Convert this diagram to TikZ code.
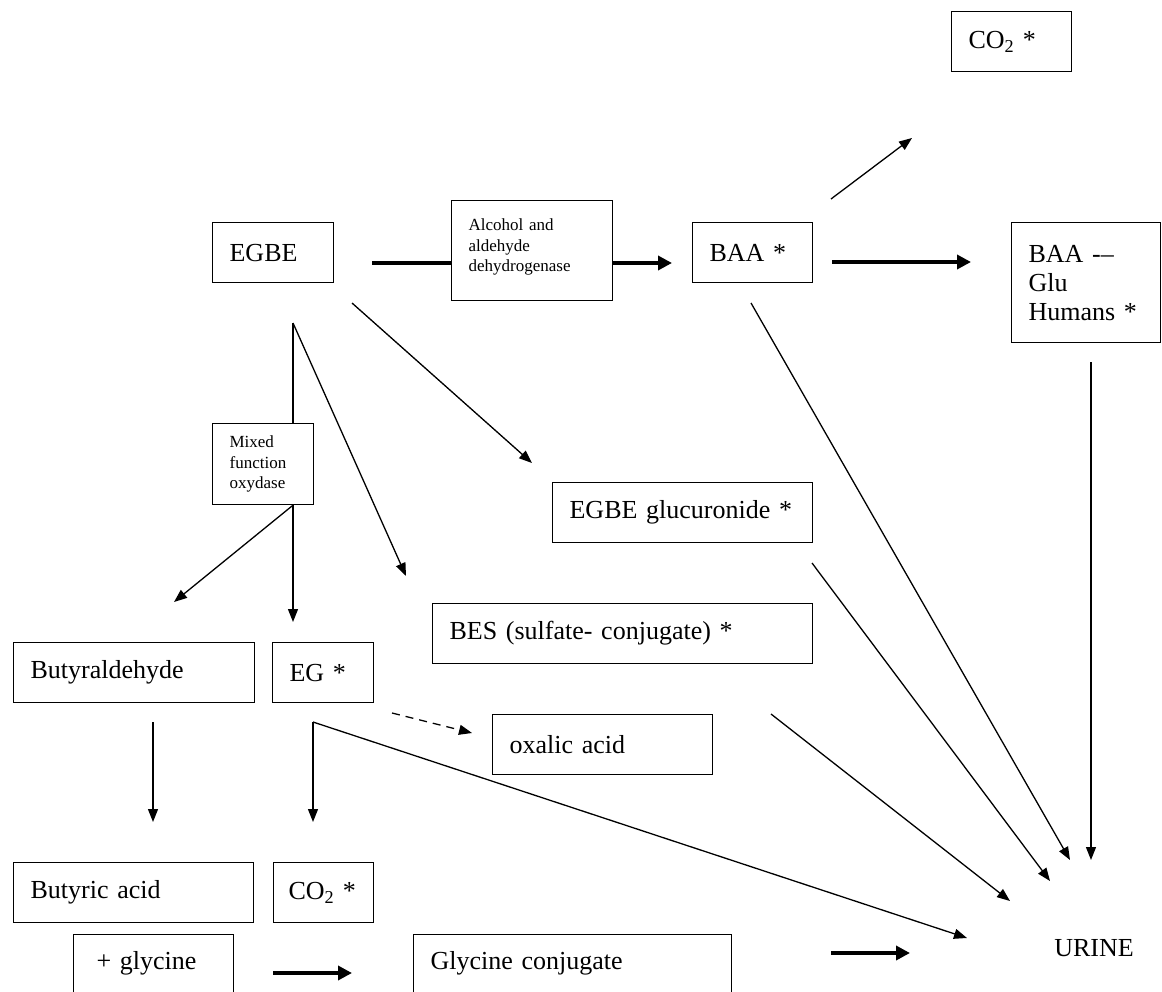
\documentclass[tikz,border=0pt]{standalone}
\usepackage{fontspec}
\setmainfont{Liberation Serif}
\usetikzlibrary{arrows.meta}
\newcommand\bigtext{\fontsize{26}{29}\selectfont}
\newcommand\smalltext{\fontsize{17}{20.5}\selectfont}
\begin{document}
\begin{tikzpicture}[x=1pt,y=-1pt,
  box/.style={draw, line width=1.2pt, anchor=north west, inner xsep=17pt, inner ysep=0pt, align=left, font=\bigtext},
  smallbox/.style={box, font=\smalltext},
  conn/.style={line width=1.3pt, -{Triangle[length=13pt,width=10pt]}},
  plainline/.style={line width=1.3pt},
  thickconn/.style={line width=3.6pt, -{Triangle[length=14pt,width=14pt]}},
  thickline/.style={line width=3.6pt},
  dashconn/.style={line width=1.3pt, dash pattern=on 8pt off 6pt, -{Triangle[length=13pt,width=10pt]}}]
\useasboundingbox (0,0) rectangle (1162,992);
\clip (0,0) rectangle (1162,992);

% boxes
\node[box, text width=86pt, minimum height=60pt] (co2top) at (951,11) {CO\textsubscript{2} *};
\node[box, text width=87pt, minimum height=60pt] (egbe) at (212,222) {EGBE};
\node[smallbox, text width=127pt, text height=30pt, text depth=70pt] (alc) at (451,200) {Alcohol and\\aldehyde\\dehydrogenase};
\node[box, text width=86pt, minimum height=60pt] (baa) at (692,222) {BAA *};
\node[box, text width=115pt, minimum height=120pt] (baaglu) at (1011,222) {BAA -–\\Glu\\Humans *};
\node[smallbox, text width=67pt, minimum height=81pt] (mixed) at (212,423) {Mixed\\function\\oxydase};
\node[box, text width=226pt, minimum height=60pt] (gluc) at (552,482) {EGBE glucuronide *};
\node[box, text width=346pt, minimum height=60pt] (bes) at (432,603) {BES (sulfate- conjugate) *};
\node[box, text width=207pt, minimum height=60pt] (butyrald) at (13,642) {Butyraldehyde};
\node[box, text width=67pt, minimum height=60pt] (eg) at (272,642) {EG *};
\node[box, text width=186pt, minimum height=60pt] (oxalic) at (492,714) {oxalic acid};
\node[box, text width=206pt, minimum height=60pt] (butyric) at (13,862) {Butyric acid};
\node[box, inner xsep=15pt, text width=70pt, minimum height=60pt] (co2low) at (273,862) {CO\textsubscript{2} *};
\node[box, inner xsep=23pt, text width=114pt, text height=35pt, text depth=40pt] (glycine) at (73,934) {+ glycine};
\node[box, text width=284pt, text height=35pt, text depth=40pt] (glyconj) at (413,934) {Glycine conjugate};
\node[font=\bigtext] (urine) at (1094,948) {URINE};

% free ends
\coordinate (egbeR) at (372,263);
\coordinate (baaIn) at (672,263);
\coordinate (baaR) at (832,262);
\coordinate (baagluIn) at (971,262);
\coordinate (baaUp) at (831,199);
\coordinate (co2In) at (912,138);
\coordinate (baaB) at (751,303);
\coordinate (uA) at (1070,860);
\coordinate (baagluB) at (1091,362);
\coordinate (uB) at (1091,860);
\coordinate (egbeBR) at (352,303);
\coordinate (glucIn) at (532,463);
\coordinate (egbeB) at (293,323);
\coordinate (egIn) at (293,622);
\coordinate (butyraldIn) at (174,602);
\coordinate (besIn) at (406,576);
\coordinate (glucB) at (812,563);
\coordinate (uC) at (1050,881);
\coordinate (besB) at (771,714);
\coordinate (uD) at (1010,901);
\coordinate (butyraldB) at (153,722);
\coordinate (butyricIn) at (153,822);
\coordinate (egB) at (313,722);
\coordinate (co2lowIn) at (313,822);
\coordinate (uE) at (967,938);
\coordinate (egR) at (392,713);
\coordinate (oxalicIn) at (472,733);
\coordinate (glyR) at (273,973);
\coordinate (glyconjIn) at (352,973);
\coordinate (glyconjR) at (831,953);
\coordinate (uF) at (910,953);

% connectors
\draw[thickline] (egbeR) -- (egbeR -| alc.west);
\draw[thickconn] (egbeR -| alc.east) -- (baaIn);
\draw[thickconn] (baaR) -- (baagluIn);
\draw[conn] (baaUp) -- (co2In);
\draw[conn] (baaB) -- (uA);
\draw[conn] (baagluB) -- (uB);
\draw[conn] (egbeBR) -- (glucIn);
\draw[plainline] (egbeB) -- (egbeB |- mixed.north);
\draw[conn] (egbeB |- mixed.south) -- (egIn);
\draw[conn] (egbeB |- mixed.south) -- (butyraldIn);
\draw[conn] (egbeB) -- (besIn);
\draw[conn] (glucB) -- (uC);
\draw[conn] (besB) -- (uD);
\draw[conn] (butyraldB) -- (butyricIn);
\draw[conn] (egB) -- (co2lowIn);
\draw[conn] (egB) -- (uE);
\draw[dashconn] (egR) -- (oxalicIn);
\draw[thickconn] (glyR) -- (glyconjIn);
\draw[thickconn] (glyconjR) -- (uF);
\end{tikzpicture}
\end{document}
